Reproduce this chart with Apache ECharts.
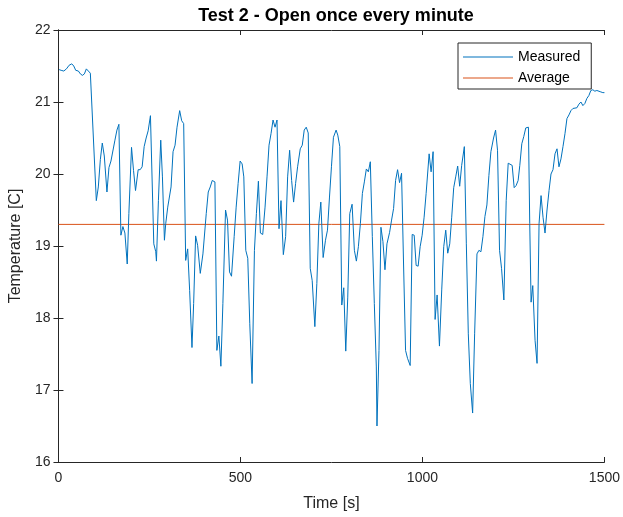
<!DOCTYPE html>
<html>
<head>
<meta charset="utf-8">
<script src="https://cdn.jsdelivr.net/npm/echarts@6/dist/echarts.min.js"></script>
<style>html,body{margin:0;padding:0;background:#fff}#c{width:623px;height:517px}</style>
</head>
<body>
<div id="c"></div>
<script>
var titleText = 'Test 2 - Open once every minute';
var xTicks = [0, 500, 1000, 1500];
var yTicks = [16, 17, 18, 19, 20, 21, 22];
var times = [1.8,7.3,14.6,21.9,29.2,36.5,42,47.4,54.7,60.2,65.7,71.2,76.6,82.1,87.6,104,109.5,115,120.4,125.9,133.2,138.7,144.2,149.6,155.1,160.6,166,171.5,177,182.5,188.9,193.4,200.7,206.2,211.7,219,224.5,229.9,235.4,240.9,246.4,252.7,
261.9,267.3,269.2,274.6,281,285.6,291.1,294.7,300.2,309.3,314.8,320.3,325.7,333,338.5,344,349.5,355,360.4,366.8,371.4,376.8,382.3,389.6,396.9,406,411.5,417,422.5,429.8,435.2,440.7,446.2,451.7,459,464.4,469.9,475.4,482.7,488.2,493.6,499.1,504.6,
509.2,514.6,520.1,525.6,532,538.4,543.8,549.3,554.8,561.2,567.6,573,578.5,584,589.5,595,600.4,605.9,611.4,617.8,624.1,629.6,635.1,640.6,646,651.5,657,664.3,669.8,675.2,680.7,686.2,691.7,697.1,704.4,709.9,715.4,720.8,727.2,733.6,739.1,744.6,750,755.5,762.8,
767.4,772.9,778.4,783.8,789.3,794.8,800.3,806.7,813,818.5,824,829.5,835,840.4,845.9,851.4,856.8,862.3,867.8,873.3,875.1,880.6,886,891.5,897,902.5,909.8,915.2,920.7,926.2,931.7,937.1,942.6,948.1,953.6,959,966.3,971.8,977.3,982.7,988.2,993.7,999.2,1004.6,1010.1,
1018.4,1023.8,1029.3,1034.8,1040.3,1046.7,1053,1058.5,1064,1069.5,1075,1080.4,1085.9,1091.4,1096.8,1102.3,1107.8,1115.1,1120.6,1126,1131.5,1137.9,1143.4,1149.8,1155.2,1160.7,1166.2,1171.7,1177.1,1182.6,1188.1,1195.4,1200.9,1206.3,1211.8,1217.3,1223.7,1230.1,1235.6,1241,1246.5,1252,1257.4,1262.9,
1267.5,1273,1278.4,1283.9,1291.2,1294.8,1298.5,1303.1,1309.4,1314.9,1320.4,1325.9,1331.3,1336.8,1342.3,1347.8,1353.2,1358.7,1364.2,1369.7,1375.1,1380.6,1386.1,1391.6,1397,1402.5,1408,1413.5,1418.9,1424.4,1429.9,1435.4,1440.8,1446.3,1451.8,1457.3,1462.7,1468.2,1473.7,1479.2,1484.6,1490.1,1495.6,1500];
var temps = [21.45,21.44,21.43,21.46,21.51,21.53,21.50,21.44,21.43,21.39,21.37,21.39,21.46,21.43,21.40,19.63,19.82,20.20,20.43,20.25,19.75,20.09,20.18,20.19,20.47,20.61,20.69,19.15,19.27,19.18,18.75,19.45,20.37,20.05,19.77,20.06,20.06,20.10,20.38,20.50,20.60,20.81,
19.03,18.92,18.79,19.63,20.47,19.96,19.08,19.31,19.54,19.82,20.31,20.40,20.65,20.88,20.74,20.70,18.80,18.96,18.38,17.59,18.20,19.14,19.01,18.62,18.89,19.45,19.75,19.82,19.91,19.89,17.55,17.75,17.33,18.20,19.50,19.36,18.64,18.58,19.13,19.54,19.87,20.18,20.14,
19.96,18.94,18.83,17.92,17.09,18.94,19.45,19.90,19.18,19.16,19.54,19.96,20.40,20.56,20.75,20.65,20.75,19.24,19.63,18.88,19.13,19.96,20.33,19.91,19.61,19.87,20.10,20.35,20.40,20.61,20.65,20.57,18.69,18.52,17.88,18.48,19.31,19.61,18.84,19.08,19.22,19.68,20.10,20.51,20.61,
20.54,20.38,18.18,18.42,17.54,18.29,19.45,19.58,18.94,18.79,18.99,19.31,19.73,19.89,20.07,20.03,20.17,19.13,18.20,17.32,16.50,17.55,19.26,19.06,18.67,19.03,19.19,19.36,19.52,19.91,20.06,19.88,20.01,18.75,17.55,17.44,17.34,19.16,19.15,18.73,18.72,18.99,19.15,19.40,19.73,
20.28,20.03,20.31,17.98,18.32,17.61,18.39,18.99,19.22,18.90,19.03,19.40,19.81,19.96,20.11,19.83,20.12,20.38,19.03,17.78,17.09,16.68,17.78,18.89,18.94,18.92,19.13,19.41,19.57,19.98,20.31,20.50,20.61,20.33,18.94,18.69,18.25,19.63,20.15,20.15,20.12,19.81,19.84,19.91,
20.12,20.42,20.52,20.64,20.65,19.31,18.22,18.45,17.69,17.37,19.31,19.70,19.40,19.18,19.50,19.77,20.00,20.06,20.28,20.35,20.10,20.21,20.38,20.56,20.77,20.82,20.88,20.91,20.89,20.92,20.97,21.00,20.95,20.98,21.05,21.09,21.16,21.17,21.15,21.16,21.15,21.14,21.13,21.13];
var avgTimes = [0, 1500];
var avgTemps = [19.30, 19.30];

var measured = times.map(function(t, i){ return [t, temps[i]]; });
var average = avgTimes.map(function(t, i){ return [t, avgTemps[i]]; });

var axisColor = '#262626';
var font = 'Liberation Sans, Arial, Helvetica, sans-serif';
var plain = function(v){ return String(v); };
var chart = echarts.init(document.getElementById('c'), null, {renderer: 'canvas'});
chart.setOption({
  animation: false,
  backgroundColor: '#ffffff',
  title: {
    text: titleText, left: 331, top: 2, textAlign: 'center',
    textStyle: {fontFamily: font, fontSize: 18, fontWeight: 'bold', color: '#000'}
  },
  legend: {
    left: 458, top: 43, orient: 'vertical',
    backgroundColor: '#fff', borderColor: axisColor, borderWidth: 1,
    padding: [6, 11, 3, 5], itemGap: 5, itemWidth: 50, itemHeight: 1,
    icon: 'rect',
    textStyle: {fontFamily: font, fontSize: 14, color: '#000', lineHeight: 16, padding: [0,0,0,0]},
    data: ['Measured', 'Average']
  },
  grid: {left: 57, right: 18, top: 30, bottom: 55, containLabel: false},
  xAxis: [{
    type: 'value', min: 0, max: 1500, interval: 500, position: 'bottom',
    name: 'Time [s]', nameLocation: 'middle', nameGap: 34,
    nameTextStyle: {fontFamily: font, fontSize: 16, color: axisColor},
    axisLine: {show: true, lineStyle: {color: axisColor, width: 1}},
    axisTick: {show: true, inside: true, length: 5, lineStyle: {color: axisColor}},
    axisLabel: {fontFamily: font, fontSize: 14, color: axisColor, margin: 9, formatter: plain},
    splitLine: {show: false}
  }, {
    type: 'value', min: 0, max: 1500, interval: 500, position: 'top',
    axisLine: {show: true, lineStyle: {color: axisColor, width: 1}},
    axisTick: {show: true, inside: true, length: 5, lineStyle: {color: axisColor}},
    axisLabel: {show: false}, splitLine: {show: false}
  }],
  yAxis: [{
    type: 'value', min: 16, max: 22, interval: 1, position: 'left',
    name: 'Temperature [C]', nameLocation: 'middle', nameGap: 32, nameRotate: 90,
    nameTextStyle: {fontFamily: font, fontSize: 16, color: axisColor},
    axisLine: {show: true, lineStyle: {color: axisColor, width: 1}},
    axisTick: {show: true, inside: true, length: 5, lineStyle: {color: axisColor}},
    axisLabel: {fontFamily: font, fontSize: 14, color: axisColor, margin: 8, formatter: plain},
    splitLine: {show: false}
  }, {
    type: 'value', min: 16, max: 22, interval: 1, position: 'right',
    axisLine: {show: true, lineStyle: {color: axisColor, width: 1}},
    axisTick: {show: true, inside: true, length: 5, lineStyle: {color: axisColor}},
    axisLabel: {show: false}, splitLine: {show: false}
  }],
  series: [{
    name: 'Measured', type: 'line', data: measured, showSymbol: false, symbol: 'none',
    lineStyle: {color: '#0072BD', width: 1}, itemStyle: {color: '#0072BD'}, z: 3
  }, {
    name: 'Average', type: 'line', data: average, showSymbol: false, symbol: 'none',
    lineStyle: {color: '#D95319', width: 1}, itemStyle: {color: '#D95319'}, z: 2
  }]
});
</script>
</body>
</html>
